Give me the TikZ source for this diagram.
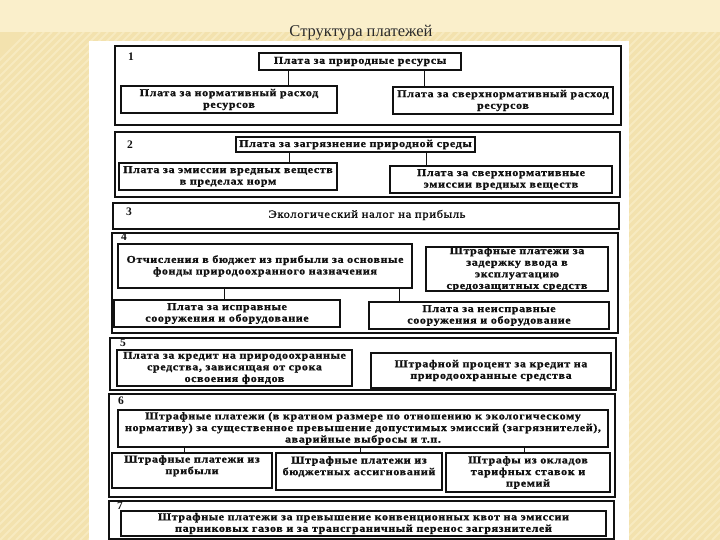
\documentclass[tikz,border=0pt]{standalone}
\usepackage{fontspec}
\setmainfont{Liberation Serif}
\newfontfamily\scanfont[FakeStretch=1.14,LetterSpace=6,FakeBold=1.2]{Liberation Serif}
\definecolor{bgtop}{HTML}{FAEFCB}
\definecolor{bgtan}{HTML}{F3E2AE}
\definecolor{bgstripe}{HTML}{F7EAC0}
\definecolor{ink}{HTML}{111111}
\definecolor{titleink}{HTML}{2A2A2A}
\tikzset{
  secbox/.style={draw=ink, line width=1.6pt, inner sep=0pt},
  ibox/.style={draw=ink, line width=1.8pt, inner sep=0pt, align=center, text=ink,
    font=\scanfont\bfseries\fontsize{10.5}{11.6}\selectfont},
  plaintext/.style={inner sep=0pt, align=center, text=ink,
    font=\scanfont\bfseries\fontsize{10.5}{11.6}\selectfont},
  numlabel/.style={inner sep=0pt, text=ink, font=\bfseries\fontsize{11.5}{12}\selectfont},
  conn/.style={draw=ink, line width=1pt},
}
% box by corners: name, x1, y1, x2, y2, style, text
\newcommand\cornerbox[7]{%
  \node[#6, minimum width={(#4-#2)*1pt}, minimum height={(#5-#3)*1pt}]
    (#1) at ({(#2+#4)/2},{(#3+#5)/2}) {#7};}
\begin{document}
\begin{tikzpicture}[x=1pt,y=-1pt]
\useasboundingbox (0,0) rectangle (720,540);
% background
\fill[bgtan] (0,0) rectangle (720,540);
\begin{scope}
\clip (0,32) rectangle (720,540);
\foreach \i in {-60,...,150} {
  \draw[bgstripe, line width=2pt] ({\i*8},540) -- ({\i*8+508},32);
}
\end{scope}
\fill[bgtop] (0,0) rectangle (720,32);
\fill[white] (89,41) rectangle (629,540);
% title
\node[inner sep=0pt, text=titleink, font=\fontsize{16.5}{18}\selectfont] (title) at (361,33) {Структура платежей};

% ---- Section 1
\cornerbox{sec1}{115}{46}{621}{125}{secbox}{}
\node[numlabel] (n1) at (131,57) {1};
\cornerbox{t1}{259}{53}{461}{70}{ibox}{Плата за природные ресурсы}
\cornerbox{l1}{121}{86}{337}{113}{ibox}{Плата за нормативный расход\\ресурсов}
\cornerbox{r1}{393}{87}{613}{114}{ibox}{Плата за сверхнормативный расход\\ресурсов}
\coordinate (c1a) at (288,0);
\coordinate (c1b) at (424,0);
\draw[conn] (t1.south -| c1a) -- (l1.north -| c1a);
\draw[conn] (t1.south -| c1b) -- (r1.north -| c1b);

% ---- Section 2
\cornerbox{sec2}{115}{132}{620}{197}{secbox}{}
\node[numlabel] (n2) at (130,145) {2};
\cornerbox{t2}{236}{137}{475}{152}{ibox}{Плата за загрязнение природной среды}
\cornerbox{l2}{119}{163}{337}{190}{ibox}{Плата за эмиссии вредных веществ\\в пределах норм}
\cornerbox{r2}{390}{166}{612}{193}{ibox}{Плата за сверхнормативные\\эмиссии вредных веществ}
\coordinate (c2a) at (289,0);
\coordinate (c2b) at (426,0);
\draw[conn] (t2.south -| c2a) -- (l2.north -| c2a);
\draw[conn] (t2.south -| c2b) -- (r2.north -| c2b);

% ---- Section 3
\cornerbox{sec3}{113}{203}{619}{229}{secbox}{}
\node[numlabel] (n3) at (129,212) {3};
\node[plaintext, font=\scanfont\fontsize{11}{12}\selectfont] (e3) at (367,215) {Экологический налог на прибыль};

% ---- Section 4
\cornerbox{sec4}{112}{233}{618}{333}{secbox}{}
\node[numlabel] (n4) at (124,237) {4};
\cornerbox{tl4}{118}{244}{412}{288}{ibox}{Отчисления в бюджет из прибыли за основные\\фонды природоохранного назначения}
\cornerbox{tr4}{426}{247}{608}{291}{ibox}{Штрафные платежи за\\задержку ввода в\\эксплуатацию\\средозащитных средств}
\cornerbox{bl4}{114}{300}{340}{327}{ibox}{Плата за исправные\\сооружения и оборудование}
\cornerbox{br4}{369}{302}{609}{329}{ibox}{Плата за неисправные\\сооружения и оборудование}
\coordinate (c4a) at (224,0);
\coordinate (c4b) at (399,0);
\draw[conn] (tl4.south -| c4a) -- (bl4.north -| c4a);
\draw[conn] (tl4.south -| c4b) -- (br4.north -| c4b);

% ---- Section 5
\cornerbox{sec5}{110}{338}{616}{390}{secbox}{}
\node[numlabel] (n5) at (123,343) {5};
\cornerbox{l5}{117}{350}{352}{386}{ibox}{Плата за кредит на природоохранные\\средства, зависящая от срока\\освоения фондов}
\cornerbox{r5}{371}{353}{611}{388}{ibox}{Штрафной процент за кредит на\\природоохранные средства}

% ---- Section 6
\cornerbox{sec6}{109}{394}{615}{497}{secbox}{}
\node[numlabel] (n6) at (121,401) {6};
\cornerbox{t6}{118}{410}{608}{447}{ibox}{Штрафные платежи (в кратном размере по отношению к экологическому\\нормативу) за существенное превышение допустимых эмиссий (загрязнителей),\\аварийные выбросы и т.п.}
\cornerbox{b6a}{112}{453}{272}{488}{ibox}{Штрафные платежи из\\прибыли\\~}
\cornerbox{b6b}{276}{453}{442}{490}{ibox}{Штрафные платежи из\\бюджетных ассигнований\\~}
\cornerbox{b6c}{446}{453}{610}{492}{ibox}{Штрафы из окладов\\тарифных ставок и\\премий}
\coordinate (c6a) at (184,0);
\coordinate (c6b) at (360,0);
\coordinate (c6c) at (524,0);
\draw[conn] (t6.south -| c6a) -- (b6a.north -| c6a);
\draw[conn] (t6.south -| c6b) -- (b6b.north -| c6b);
\draw[conn] (t6.south -| c6c) -- (b6c.north -| c6c);

% ---- Section 7
\cornerbox{sec7}{109}{501}{614}{539}{secbox}{}
\node[numlabel] (n7) at (120,506) {7};
\cornerbox{b7}{121}{511}{606}{536}{ibox}{Штрафные платежи за превышение конвенционных квот на эмиссии\\парниковых газов и за трансграничный перенос загрязнителей}
\end{tikzpicture}
\end{document}
